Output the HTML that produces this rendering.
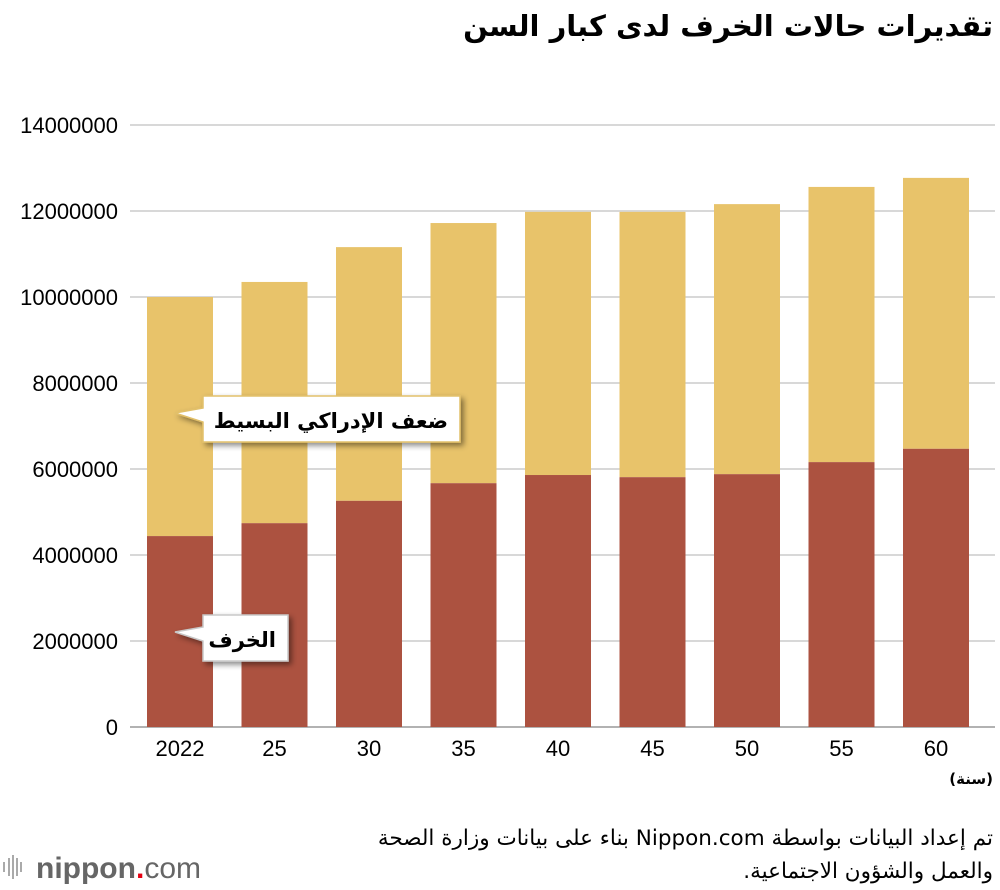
<!DOCTYPE html>
<html><head><meta charset="utf-8"><style>
body{margin:0;background:#fff;width:1000px;height:890px;overflow:hidden;font-family:"Liberation Sans","DejaVu Sans",sans-serif;position:relative}
.src{position:absolute;right:7px;direction:rtl;text-align:right;font-family:"DejaVu Sans",sans-serif;font-size:21.5px;color:#000;white-space:nowrap;line-height:1}
</style></head><body>
<svg width="1000" height="890" xmlns="http://www.w3.org/2000/svg" style="position:absolute;left:0;top:0">
<defs><filter id="sh" x="-20%" y="-30%" width="150%" height="180%"><feDropShadow dx="3" dy="3" stdDeviation="3" flood-opacity="0.45"/></filter></defs>
<text x="993" y="36" text-anchor="end" font-family="DejaVu Sans,sans-serif" font-weight="bold" font-size="29" fill="#000">تقديرات حالات الخرف لدى كبار السن</text>
<g id="grid"></g><g id="bars"></g><g id="ylab"></g><g id="xlab"></g>
<text x="993" y="784" text-anchor="end" font-family="DejaVu Sans,sans-serif" font-weight="bold" font-size="15">(سنة)</text>
<g filter="url(#sh)">
<path d="M203,396 H460 V442 H203 V422 L175,413 L203,408 Z" fill="#fff" stroke="#e2c06a" stroke-width="1.5"/>
</g>
<text x="448" y="428" text-anchor="end" font-family="DejaVu Sans,sans-serif" font-weight="bold" font-size="21">ضعف الإدراكي البسيط</text>
<g filter="url(#sh)">
<path d="M203,615 H288 V661 H203 V641 L175,632 L203,627 Z" fill="#fff" stroke="#c8c8c8" stroke-width="1.5"/>
</g>
<text x="276" y="647" text-anchor="end" font-family="DejaVu Sans,sans-serif" font-weight="bold" font-size="21">الخرف</text>
<g>
<g fill="#aaa"><rect x="3" y="862" width="2" height="10"/><rect x="8" y="858" width="2" height="18"/><rect x="12" y="855" width="2" height="24"/><rect x="16" y="858" width="2" height="18"/><rect x="20" y="862" width="2" height="10"/></g>
<text x="36" y="878" font-size="30" fill="#666" font-family="Liberation Sans,sans-serif"><tspan font-weight="bold">nippon</tspan><tspan fill="#e60012" font-weight="bold">.</tspan><tspan>com</tspan></text>
</g>
</svg>
<div class="src" dir="rtl" style="top:828px">تم إعداد البيانات بواسطة Nippon.com بناء على بيانات وزارة الصحة</div>
<div class="src" dir="rtl" style="top:861px">والعمل والشؤون الاجتماعية.</div>
<script>
const categories=["2022","25","30","35","40","45","50","55","60"];
const dementia=[4.44,4.74,5.26,5.67,5.86,5.81,5.88,6.16,6.47];
const totals=[10.0,10.35,11.16,11.72,11.98,11.98,12.16,12.56,12.77];
const yTicks=[0,2000000,4000000,6000000,8000000,10000000,12000000,14000000];
const NS="http://www.w3.org/2000/svg";
const y=v=>727-v/1e6*43;
const x=i=>180+i*94.5;
const bw=66;
function mk(t,a,p){const e=document.createElementNS(NS,t);for(const k in a)e.setAttribute(k,a[k]);p.appendChild(e);return e;}
const G=document.getElementById('grid'),B=document.getElementById('bars'),YL=document.getElementById('ylab'),XL=document.getElementById('xlab');
yTicks.forEach(t=>{
 const l=mk('line',{x1:130,x2:995,y1:y(t),y2:y(t),stroke:t===0?'#999':'#ccc','stroke-width':1.5},G);
 
 
 const tx=mk('text',{x:118,y:y(t)+8,'text-anchor':'end','font-size':22,fill:'#000'},YL);
 tx.textContent=String(t);
 
 
});
categories.forEach((c,i)=>{
 const d=dementia[i]*1e6,tot=totals[i]*1e6;
 const r1=mk('rect',{x:x(i)-bw/2,y:y(tot),width:bw,height:y(d)-y(tot),fill:'#e8c36a'},B);
 
 
 const r2=mk('rect',{x:x(i)-bw/2,y:y(d),width:bw,height:727-y(d),fill:'#ac5240'},B);
 
 
 const t=mk('text',{x:x(i),y:756,'text-anchor':'middle','font-size':22},XL);
 t.textContent=c;
 
 
});
</script>
</body></html>
